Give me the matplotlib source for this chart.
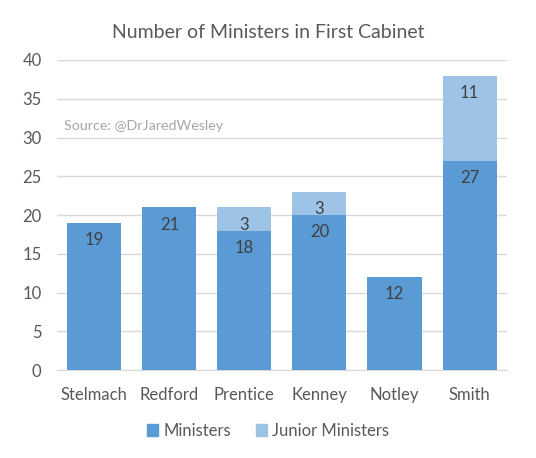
import matplotlib
matplotlib.use("Agg")
import matplotlib.pyplot as plt
from matplotlib.patches import Patch

categories = ["Stelmach", "Redford", "Prentice", "Kenney", "Notley", "Smith"]
ministers = [19, 21, 18, 20, 12, 27]
junior = [0, 0, 3, 3, 0, 11]
yticks = [0, 5, 10, 15, 20, 25, 30, 35, 40]

plt.rcParams['font.family'] = ['Lato', 'DejaVu Sans']
c_min = "#5B9BD5"
c_jun = "#9DC3E6"
txt = "#595959"

fig = plt.figure(figsize=(5.36, 4.58), dpi=100)
ax = fig.add_axes([0.106, 0.192, 0.840, 0.677])

x = list(range(len(categories)))
w = 0.72
ax.bar(x, ministers, width=w, color=c_min, zorder=3)
ax.bar(x, junior, width=w, bottom=ministers, color=c_jun, zorder=3)

for i in x:
    ax.annotate(str(ministers[i]), (i, ministers[i]), xytext=(0, -12.5),
                textcoords="offset points", ha="center", va="center",
                fontsize=12, color="#404040", zorder=4)
    if junior[i] > 0:
        top = ministers[i] + junior[i]
        ax.annotate(str(junior[i]), (i, top), xytext=(0, -12.5),
                    textcoords="offset points", ha="center", va="center",
                    fontsize=12, color="#404040", zorder=4)

ax.set_xlim(-0.5, len(categories) - 0.5)
ax.set_ylim(0, 40)
ax.set_yticks(yticks)
ax.set_xticks(x)
ax.set_xticklabels(categories)
ax.yaxis.grid(True, color="#D9D9D9", linewidth=1, zorder=0)
for s in ["top", "right", "left"]:
    ax.spines[s].set_visible(False)
ax.spines["bottom"].set_color("#D9D9D9")
ax.tick_params(axis="both", length=0, labelsize=12, labelcolor=txt)
ax.tick_params(axis="y", pad=11)
ax.tick_params(axis="x", pad=12)

fig.text(0.5, 0.93, "Number of Ministers in First Cabinet", ha="center", va="center",
         fontsize=14, color=txt)
ax.text(-0.5 + 0.09, 31.5, "Source: @DrJaredWesley", ha="left", va="center",
        fontsize=10.3, color="#A6A6A6")

handles = [Patch(color=c_min, label="Ministers"), Patch(color=c_jun, label="Junior Ministers")]
fig.legend(handles=handles, loc="center", bbox_to_anchor=(0.5, 0.06), ncol=2, frameon=False,
           fontsize=12, labelcolor=txt, handlelength=0.7, handleheight=0.7,
           handletextpad=0.3, columnspacing=1.5)

fig.savefig("out.png", dpi=100)
